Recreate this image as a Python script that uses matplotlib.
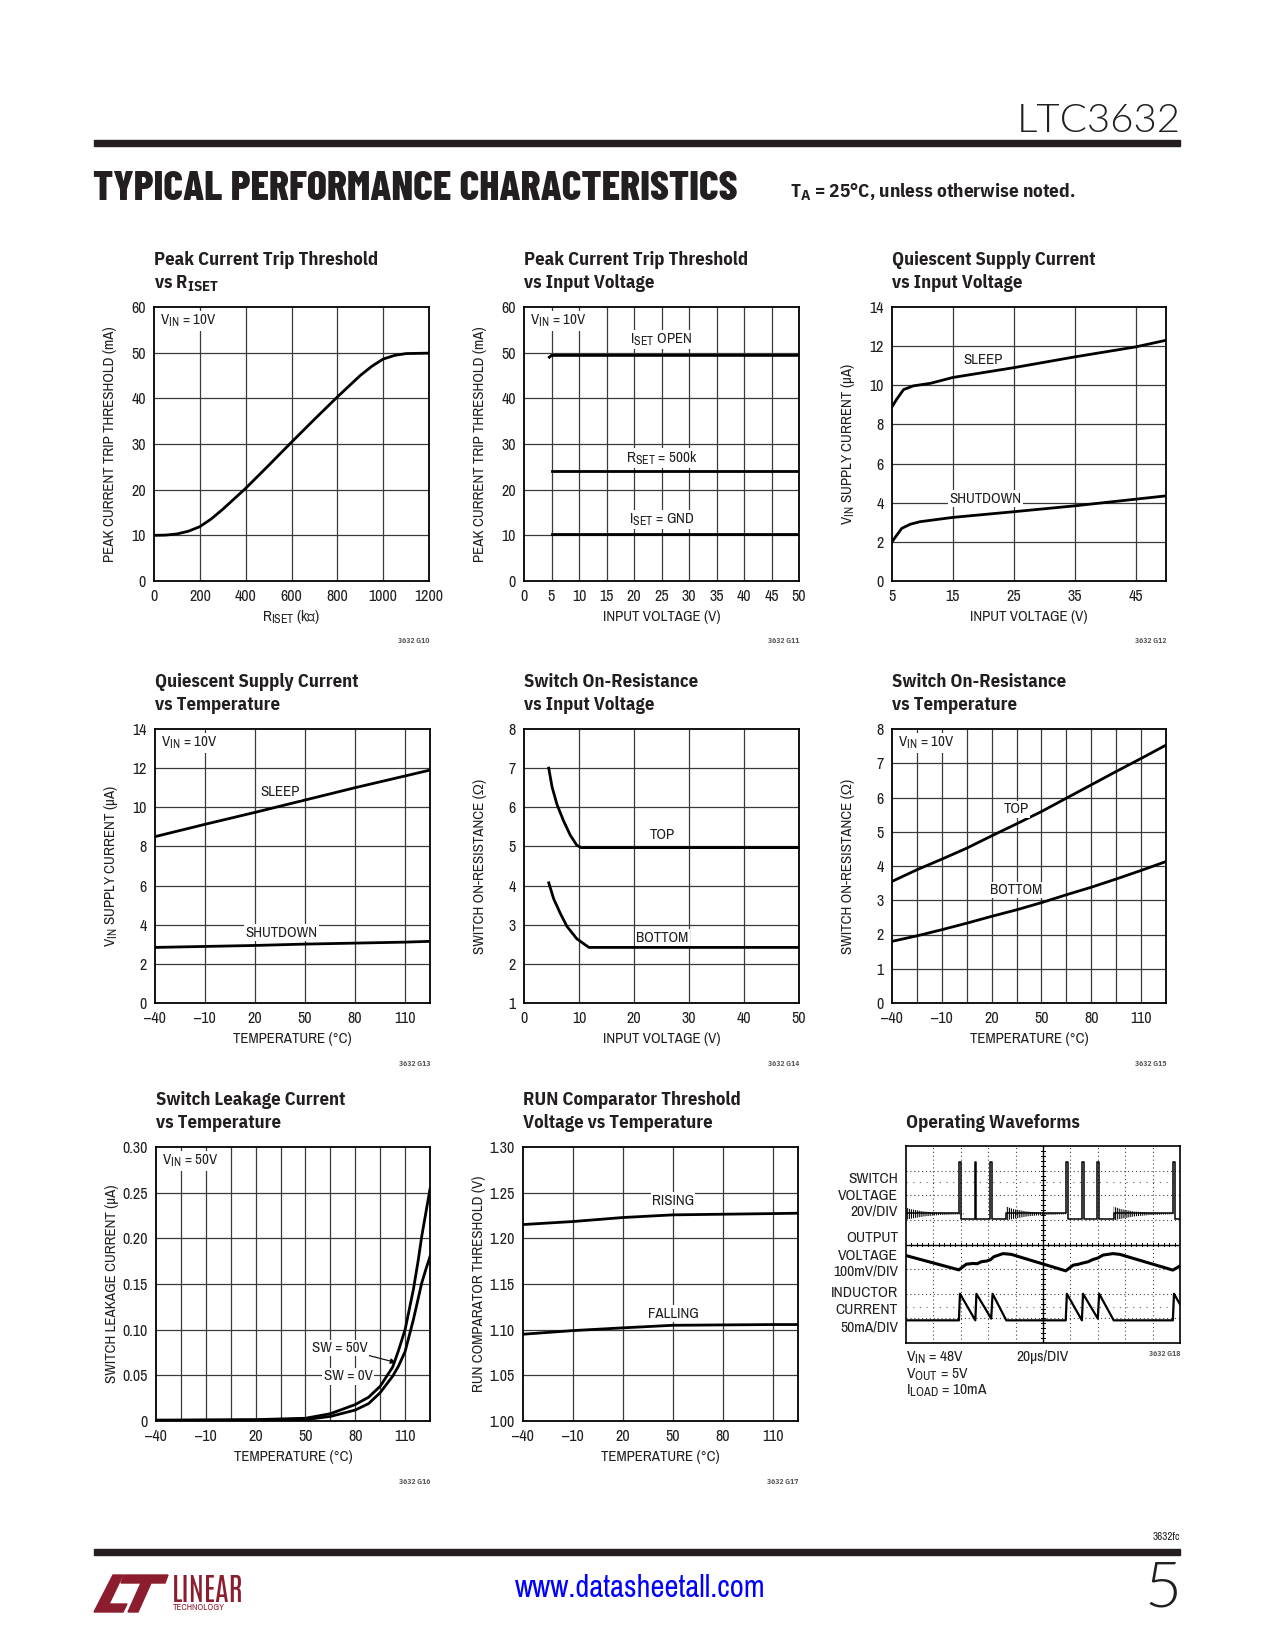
import matplotlib
matplotlib.use("Agg")
import matplotlib.pyplot as plt
from matplotlib.patches import Polygon, Rectangle
import numpy as np

plt.rcParams['font.family'] = ['Archivo Narrow', 'Liberation Sans', 'DejaVu Sans']
plt.rcParams['mathtext.fontset'] = 'custom'
plt.rcParams['mathtext.rm'] = 'Archivo Narrow'
plt.rcParams['mathtext.bf'] = 'IBM Plex Sans Condensed:bold'
plt.rcParams['mathtext.it'] = 'Archivo Narrow:italic'
plt.rcParams['hatch.linewidth'] = 0.8
try:
    # slightly larger subscripts, closer to the datasheet typesetting
    import matplotlib._mathtext as _mt
    _mt.SHRINK_FACTOR = 0.8
except Exception:
    pass

W, H = 1275, 1650
INK = '#231f20'
GRID = '#3a3a3a'
MAROON = '#8c1d2e'
BOLD = ['IBM Plex Sans Condensed', 'Archivo Narrow', 'DejaVu Sans']

# ---------------- data ----------------
# G10 peak current trip threshold vs RISET (VIN = 10V)
riset_kohm = [0, 50, 100, 150, 200, 250, 300, 400, 500, 600, 700, 800, 900, 950, 1000, 1050, 1100, 1200]
itrip_vs_riset = [10.0, 10.05, 10.3, 10.9, 11.9, 13.6, 15.7, 20.3, 25.3, 30.4, 35.4, 40.3, 45.0, 47.0, 48.6, 49.4, 49.8, 49.9]

# G11 peak current trip threshold vs input voltage
vin_open = [4.6, 5, 50]
itrip_open = [49.0, 49.4, 49.4]
vin_set = [5, 50]
itrip_500k = [24.0, 24.0]
itrip_gnd = [10.2, 10.2]

# G12 quiescent current vs input voltage
vin_sleep = [5, 5.8, 6.9, 8.5, 11.3, 15, 25, 35, 45, 50]
iq_sleep = [8.9, 9.3, 9.78, 9.97, 10.1, 10.4, 10.9, 11.45, 11.96, 12.3]
vin_shdn = [5, 5.8, 6.6, 8.0, 9.6, 15, 25, 35, 45, 50]
iq_shdn = [2.0, 2.35, 2.69, 2.9, 3.03, 3.25, 3.54, 3.84, 4.18, 4.35]

# G13 quiescent current vs temperature
temp_q = [-40, -10, 20, 50, 80, 110, 125]
iq_sleep_t = [8.5, 9.13, 9.74, 10.37, 11.0, 11.6, 11.9]
iq_shdn_t = [2.84, 2.89, 2.94, 3.01, 3.06, 3.11, 3.15]

# G14 switch on-resistance vs input voltage
vin_top = [4.5, 5.1, 6.0, 7.2, 8.4, 9.6, 10.4, 50]
ron_top = [7.0, 6.52, 6.07, 5.65, 5.29, 5.03, 4.97, 4.97]
vin_bot = [4.5, 5.4, 6.6, 7.8, 9.6, 11.8, 50]
ron_bot = [4.07, 3.66, 3.29, 2.96, 2.64, 2.42, 2.42]

# G15 switch on-resistance vs temperature
temp_r = [-40, -25, -10, 5, 20, 35, 50, 65, 80, 95, 110, 125]
ron_top_t = [3.55, 3.89, 4.2, 4.52, 4.88, 5.23, 5.59, 5.98, 6.37, 6.76, 7.14, 7.53]
ron_bot_t = [1.80, 1.96, 2.14, 2.33, 2.53, 2.72, 2.93, 3.16, 3.38, 3.62, 3.87, 4.13]

# G16 switch leakage vs temperature
temp_leak = [-40, 20, 50, 65, 80, 88, 95, 102.5, 106, 110, 115, 118, 120, 122.5, 125]
leak_sw50 = [0.001, 0.0015, 0.003, 0.008, 0.018, 0.026, 0.038, 0.059, 0.077, 0.100, 0.144, 0.177, 0.202, 0.228, 0.254]
leak_sw0 = [0.0005, 0.001, 0.0015, 0.005, 0.012, 0.019, 0.031, 0.049, 0.060, 0.076, 0.111, 0.135, 0.151, 0.166, 0.180]

# G17 RUN comparator threshold vs temperature
temp_run = [-40, -10, 20, 50, 80, 110, 125]
v_rising = [1.2151, 1.2184, 1.2228, 1.2257, 1.2264, 1.2271, 1.2275]
v_falling = [1.0950, 1.0990, 1.1020, 1.1048, 1.1052, 1.1056, 1.1056]

# G18 scope traces, in screen divisions (10 x 8)
sw_t = [0, 1.93, 1.93, 2.0, 2.0, 2.5, 2.5, 2.57, 2.57, 3.08, 3.08, 3.15, 3.15, 3.66, 3.66,
        5.83, 5.83, 5.91, 5.91, 6.42, 6.42, 6.49, 6.49, 6.98, 6.98, 7.06, 7.06, 7.58, 7.58,
        9.74, 9.74, 9.82, 9.82, 10]
sw_v = [5.26, 5.26, 7.36, 7.36, 5.02, 5.02, 7.36, 7.36, 5.02, 5.02, 7.36, 7.36, 5.02, 5.02, 5.26,
        5.26, 7.36, 7.36, 5.02, 5.02, 7.36, 7.36, 5.02, 5.02, 7.36, 7.36, 5.02, 5.02, 5.26,
        5.26, 7.36, 7.36, 5.02, 5.02]
ring_start = [-0.1, 3.66, 7.58]
ring_dt = [0, 0.25, 0.75, 1.35, 2.2]
ring_top = [5.54, 5.44, 5.34, 5.29, 5.27]
ring_bot = [4.98, 5.04, 5.14, 5.2, 5.23]
vout_t = [0, 1.93, 2.2, 2.45, 2.6, 2.75, 2.95, 3.09, 3.2, 3.54, 3.84, 5.83, 6.1, 6.3, 6.46,
          6.65, 6.82, 7.0, 7.19, 7.55, 7.8, 9.74, 10]
vout_v = [3.55, 2.97, 3.2, 3.23, 3.22, 3.3, 3.33, 3.39, 3.5, 3.63, 3.6, 2.93, 3.16, 3.2, 3.25,
          3.3, 3.39, 3.45, 3.57, 3.63, 3.6, 2.96, 3.13]
il_t = [0, 1.93, 1.97, 2.53, 2.57, 3.11, 3.16, 3.66, 5.83, 5.87, 6.42, 6.46, 7.0, 7.05, 7.58,
        9.74, 9.78, 10]
il_v = [0.92, 0.92, 2.0, 0.92, 2.0, 0.99, 2.0, 0.92, 0.92, 2.0, 0.92, 2.0, 0.99, 2.0, 0.92,
        0.92, 2.0, 1.57]

temp_ticks = [-40, -10, 20, 50, 80, 110]
temp_labels = ['\u201340', '\u201310', '20', '50', '80', '110']

fig = plt.figure(figsize=(W / 100, H / 100), dpi=100)


def px_axes(left, top, right, bottom):
    return fig.add_axes([left / W, 1 - bottom / H, (right - left) / W, (bottom - top) / H])


def fig_text(x, y, s, **kw):
    kw.setdefault('color', INK)
    return fig.text(x / W, 1 - y / H, s, **kw)


def panel(box, xlim, ylim, xgrid, ygrid, xticks, xticklabels, yticks, yticklabels,
          xlabel, ylabel, title, code):
    left, top, right, bottom = box
    ax = px_axes(*box)
    ax.set_xlim(xlim)
    ax.set_ylim(ylim)
    for g in xgrid:
        ax.axvline(g, color=GRID, lw=0.9, zorder=1)
    for g in ygrid:
        ax.axhline(g, color=GRID, lw=0.9, zorder=1)
    ax.set_xticks(xticks)
    ax.set_xticklabels(xticklabels)
    ax.set_yticks(yticks)
    ax.set_yticklabels(yticklabels)
    ax.tick_params(length=0, pad=6, labelsize=11.5, colors=INK)
    for sp in ax.spines.values():
        sp.set_linewidth(1.3)
        sp.set_color('black')
        sp.set_zorder(6)
    ax.set_xlabel(xlabel, fontsize=10.8, color=INK, va='center')
    ax.xaxis.set_label_coords(0.5, -36 / (bottom - top))
    ax.set_ylabel(ylabel, fontsize=10.8, color=INK, va='center')
    ax.yaxis.set_label_coords(-44 / (right - left), 0.5)
    fig_text(left, top - 47, title[0], fontsize=13.4, fontweight='bold', va='center', family=BOLD)
    if title[1]:
        fig_text(left, top - 24, title[1], fontsize=13.4, fontweight='bold', va='center',
                 family=BOLD)
    fig_text(right, bottom + 60, code, fontsize=5.5, fontweight='bold', ha='right', va='center',
             color='#555555', family=BOLD)
    return ax


def label(ax, x, y, s, **kw):
    ax.text(x, y, s, fontsize=10.8, color=INK, ha='center', va='center', zorder=4,
            bbox=dict(facecolor='white', edgecolor='none', pad=1.0), **kw)


def vin_label(ax, s):
    ax.text(0.022, 0.949, s, transform=ax.transAxes, fontsize=10.8, color=INK, va='center',
            zorder=4, bbox=dict(facecolor='white', edgecolor='none', pad=1.5))


LW = 2.0

# ---------------- page furniture ----------------
fig_text(1181, 121, 'LTC3632', fontsize=29, ha='right', va='center', family='Lato',
         fontweight=300)
fig.add_artist(Rectangle((94 / W, 1 - 146 / H), (1180 - 94) / W, 6 / H,
                         transform=fig.transFigure, color=INK))
fig_text(93, 189, 'TYPICAL PERFORMANCE CHARACTERISTICS', fontsize=30, va='center',
         family=['Barlow Condensed', 'Archivo Narrow'], fontweight=800)
fig_text(790, 192, r'T$_\mathbf{A}$ = 25°C, unless otherwise noted.', fontsize=13.9,
         fontweight='bold', va='center', family=BOLD)

fig_text(1180, 1537, '3632fc', fontsize=8, ha='right', va='center')
fig.add_artist(Rectangle((94 / W, 1 - 1555 / H), (1180 - 94) / W, 6 / H,
                         transform=fig.transFigure, color=INK))
fig_text(640, 1588, 'www.datasheetall.com', fontsize=22, ha='center', va='center', color='#0000ff')
fig_text(1181, 1589, '5', fontsize=46, ha='right', va='center', family='Lato', fontweight=300)

# logo
logo_l = [(94, 1612), (113, 1575), (123, 1575), (109, 1604), (127, 1604), (123, 1612)]
logo_t = [(124, 1575), (168, 1575), (165, 1583), (151, 1583), (138, 1612), (128, 1612),
          (141, 1583), (121, 1583)]
for shape in (logo_l, logo_t):
    fig.add_artist(Polygon([(x / W, 1 - y / H) for x, y in shape], closed=True,
                           transform=fig.transFigure, color=MAROON))
fig_text(172, 1591, 'LINEAR', fontsize=22, va='center', color=MAROON,
         family=['Antonio', 'Archivo Narrow'])
fig_text(173, 1608, 'TECHNOLOGY', fontsize=6.5, va='center', color=MAROON)

# ---------------- G10 ----------------
ax = panel((154, 307, 429, 581), (0, 1200), (0, 60), range(200, 1200, 200), range(10, 60, 10),
           range(0, 1201, 200), [str(v) for v in range(0, 1201, 200)],
           range(0, 61, 10), [str(v) for v in range(0, 61, 10)],
           r'R$_{\mathrm{ISET}}$ (kΩ)', 'PEAK CURRENT TRIP THRESHOLD (mA)',
           ('Peak Current Trip Threshold', r'vs R$_{\mathbf{ISET}}$'), '3632 G10')
ax.plot(riset_kohm, itrip_vs_riset, color='black', lw=LW, zorder=3)
vin_label(ax, r'V$_{\mathrm{IN}}$ = 10V')

# ---------------- G11 ----------------
ax = panel((524, 307, 799, 581), (0, 50), (0, 60), range(5, 50, 5), range(10, 60, 10),
           range(0, 51, 5), [str(v) for v in range(0, 51, 5)],
           range(0, 61, 10), [str(v) for v in range(0, 61, 10)],
           'INPUT VOLTAGE (V)', 'PEAK CURRENT TRIP THRESHOLD (mA)',
           ('Peak Current Trip Threshold', 'vs Input Voltage'), '3632 G11')
ax.plot(vin_open, itrip_open, color='black', lw=LW, zorder=3)
ax.plot(vin_set, itrip_500k, color='black', lw=LW, zorder=3)
ax.plot(vin_set, itrip_gnd, color='black', lw=LW, zorder=3)
label(ax, 25, 52.9, r'I$_{\mathrm{SET}}$ OPEN')
label(ax, 25, 26.9, r'R$_{\mathrm{SET}}$ = 500k')
label(ax, 25, 13.5, r'I$_{\mathrm{SET}}$ = GND')
vin_label(ax, r'V$_{\mathrm{IN}}$ = 10V')

# ---------------- G12 ----------------
ax = panel((892, 307, 1166, 581), (5, 50), (0, 14), [15, 25, 35, 45], range(2, 14, 2),
           [5, 15, 25, 35, 45], ['5', '15', '25', '35', '45'],
           range(0, 15, 2), [str(v) for v in range(0, 15, 2)],
           'INPUT VOLTAGE (V)', r'V$_{\mathrm{IN}}$ SUPPLY CURRENT (µA)',
           ('Quiescent Supply Current', 'vs Input Voltage'), '3632 G12')
ax.plot(vin_sleep, iq_sleep, color='black', lw=LW, zorder=3)
ax.plot(vin_shdn, iq_shdn, color='black', lw=LW, zorder=3)
label(ax, 20, 11.3, 'SLEEP')
label(ax, 20.4, 4.2, 'SHUTDOWN')

# ---------------- G13 ----------------
ax = panel((155, 729, 430, 1003), (-40, 125), (0, 14), [-10, 20, 50, 80, 110], range(2, 14, 2),
           temp_ticks, temp_labels, range(0, 15, 2), [str(v) for v in range(0, 15, 2)],
           'TEMPERATURE (°C)', r'V$_{\mathrm{IN}}$ SUPPLY CURRENT (µA)',
           ('Quiescent Supply Current', 'vs Temperature'), '3632 G13')
ax.plot(temp_q, iq_sleep_t, color='black', lw=LW, zorder=3)
ax.plot(temp_q, iq_shdn_t, color='black', lw=LW, zorder=3)
label(ax, 35, 10.8, 'SLEEP')
label(ax, 36, 3.6, 'SHUTDOWN')
vin_label(ax, r'V$_{\mathrm{IN}}$ = 10V')

# ---------------- G14 ----------------
ax = panel((524, 729, 799, 1003), (0, 50), (1, 8), range(10, 50, 10), range(2, 8),
           range(0, 51, 10), [str(v) for v in range(0, 51, 10)],
           range(1, 9), [str(v) for v in range(1, 9)],
           'INPUT VOLTAGE (V)', 'SWITCH ON-RESISTANCE (Ω)',
           ('Switch On-Resistance', 'vs Input Voltage'), '3632 G14')
ax.plot(vin_top, ron_top, color='black', lw=LW, zorder=3)
ax.plot(vin_bot, ron_bot, color='black', lw=LW, zorder=3)
label(ax, 25.2, 5.28, 'TOP')
label(ax, 25.2, 2.67, 'BOTTOM')

# ---------------- G15 ----------------
ax = panel((892, 729, 1166, 1003), (-40, 125), (0, 8), range(-25, 125, 15), range(1, 8),
           temp_ticks, temp_labels, range(0, 9), [str(v) for v in range(0, 9)],
           'TEMPERATURE (°C)', 'SWITCH ON-RESISTANCE (Ω)',
           ('Switch On-Resistance', 'vs Temperature'), '3632 G15')
ax.plot(temp_r, ron_top_t, color='black', lw=LW, zorder=3)
ax.plot(temp_r, ron_bot_t, color='black', lw=LW, zorder=3)
label(ax, 35, 5.65, 'TOP')
label(ax, 35, 3.3, 'BOTTOM')
vin_label(ax, r'V$_{\mathrm{IN}}$ = 10V')

# ---------------- G16 ----------------
ax = panel((156, 1147, 430, 1421), (-40, 125), (0, 0.30), range(-25, 125, 15),
           [0.05, 0.10, 0.15, 0.20, 0.25],
           temp_ticks, temp_labels, [0, 0.05, 0.10, 0.15, 0.20, 0.25, 0.30],
           ['0', '0.05', '0.10', '0.15', '0.20', '0.25', '0.30'],
           'TEMPERATURE (°C)', 'SWITCH LEAKAGE CURRENT (µA)',
           ('Switch Leakage Current', 'vs Temperature'), '3632 G16')
ax.plot(temp_leak, leak_sw50, color='black', lw=LW, zorder=3)
ax.plot(temp_leak, leak_sw0, color='black', lw=LW, zorder=3)
ax.annotate('SW = 50V', xy=(104.5, 0.064), xytext=(70.6, 0.080), fontsize=10.8, color=INK,
            ha='center', va='center', zorder=4,
            bbox=dict(facecolor='white', edgecolor='none', pad=1.0),
            arrowprops=dict(arrowstyle='-|>', lw=0.8, color='black', shrinkA=0, shrinkB=0,
                            mutation_scale=8))
label(ax, 75.6, 0.049, 'SW = 0V')
vin_label(ax, r'V$_{\mathrm{IN}}$ = 50V')

# ---------------- G17 ----------------
ax = panel((523, 1147, 798, 1421), (-40, 125), (1.0, 1.30), [-10, 20, 50, 80, 110],
           [1.05, 1.10, 1.15, 1.20, 1.25],
           temp_ticks, temp_labels, [1.0, 1.05, 1.10, 1.15, 1.20, 1.25, 1.30],
           ['1.00', '1.05', '1.10', '1.15', '1.20', '1.25', '1.30'],
           'TEMPERATURE (°C)', 'RUN COMPARATOR THRESHOLD (V)',
           ('RUN Comparator Threshold', 'Voltage vs Temperature'), '3632 G17')
ax.plot(temp_run, v_rising, color='black', lw=LW, zorder=3)
ax.plot(temp_run, v_falling, color='black', lw=LW, zorder=3)
label(ax, 50, 1.2413, 'RISING')
label(ax, 50, 1.1175, 'FALLING')

# ---------------- G18 scope ----------------
ax = px_axes(906, 1146, 1180, 1343)
ax.set_xlim(0, 10)
ax.set_ylim(0, 8)
ax.set_xticks([])
ax.set_yticks([])
for sp in ax.spines.values():
    sp.set_linewidth(1.2)
    sp.set_color('black')
for g in range(1, 10):
    if g != 5:
        ax.axvline(g, color='#444444', lw=0.8, ls=(0, (1, 2.5)), zorder=1)
for g in range(1, 8):
    if g != 4:
        ax.axhline(g, color='#444444', lw=0.8, ls=(0, (1, 2.5)), zorder=1)
for g in (6.54, 1.45):
    ax.axhline(g, color='#666666', lw=0.8, ls=(0, (1, 5)), zorder=1)
ax.axvline(5, color='black', lw=1.0, zorder=1)
ax.axhline(4, color='black', lw=1.0, zorder=1)
for t in np.arange(0.2, 10, 0.2):
    ax.plot([t, t], [3.93, 4.07], color='black', lw=0.7, zorder=1)
for t in np.arange(0.2, 8, 0.2):
    ax.plot([4.94, 5.06], [t, t], color='black', lw=0.7, zorder=1)
for start in ring_start:
    ax.fill_between([start + d for d in ring_dt], ring_bot, ring_top, facecolor='none',
                    edgecolor='black', hatch='||||||||', lw=0, zorder=2)
ax.plot(sw_t, sw_v, color='black', lw=1.1, zorder=3)
ax.plot(vout_t, vout_v, color='black', lw=2.2, zorder=3)
ax.plot(il_t, il_v, color='black', lw=1.6, zorder=3)

fig_text(906, 1123, 'Operating Waveforms', fontsize=13.4, fontweight='bold', va='center',
         family=BOLD)
scope_labels = [('SWITCH', 1179), ('VOLTAGE', 1196), ('20V/DIV', 1212),
                ('OUTPUT', 1238), ('VOLTAGE', 1256), ('100mV/DIV', 1272),
                ('INDUCTOR', 1293), ('CURRENT', 1310), ('50mA/DIV', 1327)]
for s, y in scope_labels:
    fig_text(898, y, s, fontsize=11.2, ha='right', va='center')
fig_text(906, 1358, r'V$_{\mathrm{IN}}$ = 48V', fontsize=11.2, va='center')
fig_text(906, 1375, r'V$_{\mathrm{OUT}}$ = 5V', fontsize=11.2, va='center')
fig_text(906, 1391, r'I$_{\mathrm{LOAD}}$ = 10mA', fontsize=11.2, va='center')
fig_text(1016, 1357, '20µs/DIV', fontsize=11.2, va='center')
fig_text(1180, 1353, '3632 G18', fontsize=5.5, fontweight='bold', ha='right', va='center',
         color='#555555', family=BOLD)

fig.savefig('out.png', dpi=100, facecolor='white')
